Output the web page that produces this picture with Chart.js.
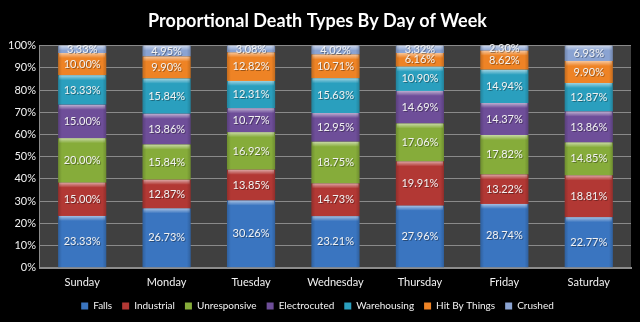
<!DOCTYPE html>
<html>
<head>
<meta charset="utf-8">
<script src="https://cdn.jsdelivr.net/npm/chart.js@4"></script>
<style>
  html, body { margin: 0; padding: 0; background: #000; }
  #wrap { width: 640px; height: 322px; }
</style>
</head>
<body>
<div id="wrap"><canvas id="deathChart" width="640" height="322"></canvas></div>
<script>
// Share of each death type per weekday (percent)
let days = ["Sunday", "Monday", "Tuesday", "Wednesday", "Thursday", "Friday", "Saturday"];
let falls = [23.33, 26.73, 30.26, 23.21, 27.96, 28.74, 22.77];
let industrial = [15.0, 12.87, 13.85, 14.73, 19.91, 13.22, 18.81];
let unresponsive = [20.0, 15.84, 16.92, 18.75, 17.06, 17.82, 14.85];
let electrocuted = [15.0, 13.86, 10.77, 12.95, 14.69, 14.37, 13.86];
let warehousing = [13.33, 15.84, 12.31, 15.63, 10.9, 14.94, 12.87];
let hitByThings = [10.0, 9.9, 12.82, 10.71, 6.16, 8.62, 9.9];
let crushed = [3.33, 4.95, 3.08, 4.02, 3.32, 2.3, 6.93];
let yTicks = [0, 10, 20, 30, 40, 50, 60, 70, 80, 90, 100];

let fontFamily = "Lato, 'Open Sans', sans-serif";

function series(label, data, color) {
  return {
    label: label,
    data: data,
    backgroundColor: color,
    borderWidth: 0,
    barPercentage: 0.57,
    categoryPercentage: 1.0,
  };
}

// Plot area background
let plotBackground = {
  id: "plotBackground",
  beforeDraw(chart) {
    let { ctx, chartArea } = chart;
    ctx.save();
    ctx.fillStyle = "#404040";
    ctx.fillRect(chartArea.left, chartArea.top, chartArea.right - chartArea.left, chartArea.bottom - chartArea.top);
    ctx.restore();
  },
};

// Bevel highlight on top of each segment plus centered value text
let barLabels = {
  id: "barLabels",
  afterDatasetsDraw(chart) {
    let ctx = chart.ctx;
    ctx.save();
    chart.data.datasets.forEach((ds, i) => {
      let meta = chart.getDatasetMeta(i);
      meta.data.forEach((bar, j) => {
        let left = bar.x - bar.width / 2;
        let top = bar.y;
        let h = bar.base - bar.y;
        // light top edge
        let g = ctx.createLinearGradient(0, top, 0, top + 5);
        g.addColorStop(0, "rgba(255,255,255,0.55)");
        g.addColorStop(1, "rgba(255,255,255,0)");
        ctx.fillStyle = g;
        ctx.fillRect(left + 1, top, bar.width - 2, Math.min(5, h));
        // darker sides
        let s = ctx.createLinearGradient(left, 0, left + bar.width, 0);
        s.addColorStop(0, "rgba(0,0,0,0.18)");
        s.addColorStop(0.08, "rgba(0,0,0,0)");
        s.addColorStop(0.92, "rgba(0,0,0,0)");
        s.addColorStop(1, "rgba(0,0,0,0.18)");
        ctx.fillStyle = s;
        ctx.fillRect(left, top, bar.width, h);

        let v = ds.data[j];
        ctx.font = "11px " + fontFamily;
        ctx.textAlign = "center";
        ctx.textBaseline = "middle";
        ctx.fillStyle = "rgba(0,0,0,0.35)";
        ctx.fillText(v.toFixed(2) + "%", bar.x + 1, top + h / 2 + 1);
        ctx.fillStyle = "#f2f2f2";
        ctx.fillText(v.toFixed(2) + "%", bar.x, top + h / 2);
      });
    });
    ctx.restore();
  },
};

let chartCtx = document.getElementById("deathChart").getContext("2d");
let deathChart = new Chart(chartCtx, {
  type: "bar",
  data: {
    labels: days,
    datasets: [
      series("Falls", falls, "#3a75c0"),
      series("Industrial", industrial, "#b23834"),
      series("Unresponsive", unresponsive, "#86ac3a"),
      series("Electrocuted", electrocuted, "#6e4e99"),
      series("Warehousing", warehousing, "#2a9fbe"),
      series("Hit By Things", hitByThings, "#ee8325"),
      series("Crushed", crushed, "#8aa3d2"),
    ],
  },
  options: {
    responsive: false,
    animation: false,
    layout: { padding: { left: 4, right: 9, top: 0, bottom: 1 } },
    scales: {
      x: {
        stacked: true,
        afterFit(scale) {
          // let the day labels sit closer to the legend
          scale.height -= 6;
        },
        grid: { display: false, drawTicks: false },
        border: { color: "#8c8c8c", width: 2 },
        ticks: { color: "#f2f2f2", font: { family: fontFamily, size: 11 }, padding: 8 },
      },
      y: {
        stacked: true,
        min: 0,
        max: 100,
        afterBuildTicks(axis) {
          axis.ticks = yTicks.map((v) => ({ value: v }));
        },
        grid: { color: "#8a8a8a", lineWidth: 1, drawTicks: false },
        border: { color: "#8c8c8c", width: 1 },
        ticks: {
          color: "#f2f2f2",
          font: { family: fontFamily, size: 11 },
          padding: 4,
          callback: (v) => v + "%",
        },
      },
    },
    plugins: {
      title: {
        display: true,
        text: "Proportional Death Types By Day of Week",
        color: "#ffffff",
        font: { family: fontFamily, size: 18, weight: "bold" },
        padding: { top: 10, bottom: 14 },
      },
      legend: {
        position: "bottom",
        labels: {
          color: "#f2f2f2",
          font: { family: fontFamily, size: 10 },
          boxWidth: 7,
          boxHeight: 7,
          padding: 10,
        },
      },
      tooltip: { enabled: false },
    },
  },
  plugins: [plotBackground, barLabels],
});
</script>
</body>
</html>
